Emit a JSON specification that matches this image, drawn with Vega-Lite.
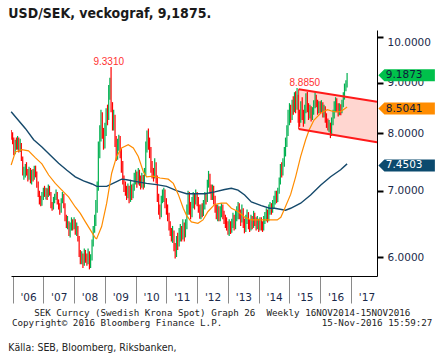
{
"$schema": "https://vega.github.io/schema/vega-lite/v6.json",
"background": "white",
"padding": {"left": 8, "top": 7, "right": 0, "bottom": 0},
"autosize": {"type": "pad"},
"config": {"view": {"stroke": null}, "concat": {"spacing": 0}, "axis": {"labelOverlap": false}, "axisX": {"labelOverlap": false, "labelBound": false}},
"title": {"text": "USD/SEK, veckograf, 9,1875.", "anchor": "start", "font": "Liberation Sans Narrow, DejaVu Sans Condensed, Roboto, sans-serif", "fontSize": 14, "fontWeight": "bold", "color": "#1a1a1a", "offset": 9},
"datasets": {
"px": [
{"d":"2005-12-15","o":7.98,"h":8.06,"l":7.88,"c":7.95},
{"d":"2006-01-01","o":7.95,"h":8.02,"l":7.80,"c":7.88},
{"d":"2006-01-15","o":7.88,"h":7.92,"l":7.60,"c":7.65},
{"d":"2006-02-01","o":7.65,"h":7.88,"l":7.62,"c":7.82},
{"d":"2006-02-15","o":7.82,"h":7.92,"l":7.70,"c":7.75},
{"d":"2006-03-01","o":7.75,"h":7.95,"l":7.70,"c":7.88},
{"d":"2006-03-15","o":7.88,"h":7.92,"l":7.65,"c":7.72},
{"d":"2006-04-01","o":7.72,"h":7.90,"l":7.66,"c":7.80},
{"d":"2006-04-15","o":7.80,"h":7.82,"l":7.50,"c":7.55},
{"d":"2006-05-01","o":7.55,"h":7.58,"l":7.25,"c":7.28},
{"d":"2006-05-15","o":7.28,"h":7.40,"l":7.18,"c":7.32},
{"d":"2006-06-01","o":7.32,"h":7.45,"l":7.22,"c":7.38},
{"d":"2006-06-15","o":7.38,"h":7.48,"l":7.25,"c":7.30},
{"d":"2006-07-01","o":7.30,"h":7.36,"l":7.15,"c":7.22},
{"d":"2006-07-15","o":7.22,"h":7.40,"l":7.18,"c":7.35},
{"d":"2006-08-01","o":7.35,"h":7.38,"l":7.12,"c":7.20},
{"d":"2006-08-15","o":7.20,"h":7.35,"l":7.10,"c":7.28},
{"d":"2006-09-01","o":7.28,"h":7.36,"l":7.15,"c":7.22},
{"d":"2006-09-15","o":7.22,"h":7.42,"l":7.18,"c":7.38},
{"d":"2006-10-01","o":7.38,"h":7.42,"l":7.22,"c":7.30},
{"d":"2006-10-15","o":7.30,"h":7.32,"l":7.05,"c":7.10},
{"d":"2006-11-01","o":7.10,"h":7.15,"l":6.90,"c":6.95},
{"d":"2006-11-15","o":6.95,"h":7.00,"l":6.78,"c":6.85},
{"d":"2006-12-01","o":6.85,"h":6.92,"l":6.75,"c":6.80},
{"d":"2006-12-15","o":6.80,"h":6.98,"l":6.76,"c":6.90},
{"d":"2007-01-01","o":6.90,"h":7.05,"l":6.85,"c":7.02},
{"d":"2007-01-15","o":7.02,"h":7.08,"l":6.90,"c":6.95},
{"d":"2007-02-01","o":6.95,"h":7.05,"l":6.86,"c":7.00},
{"d":"2007-02-15","o":7.00,"h":7.04,"l":6.85,"c":6.92},
{"d":"2007-03-01","o":6.92,"h":7.10,"l":6.90,"c":7.05},
{"d":"2007-03-15","o":7.05,"h":7.08,"l":6.92,"c":6.96},
{"d":"2007-04-01","o":6.96,"h":6.98,"l":6.72,"c":6.78},
{"d":"2007-04-15","o":6.78,"h":6.82,"l":6.68,"c":6.72},
{"d":"2007-05-01","o":6.72,"h":6.90,"l":6.70,"c":6.86},
{"d":"2007-05-15","o":6.86,"h":6.95,"l":6.80,"c":6.90},
{"d":"2007-06-01","o":6.90,"h":7.02,"l":6.85,"c":6.95},
{"d":"2007-06-15","o":6.95,"h":6.98,"l":6.78,"c":6.82},
{"d":"2007-07-01","o":6.82,"h":6.86,"l":6.70,"c":6.75},
{"d":"2007-07-15","o":6.75,"h":6.80,"l":6.62,"c":6.68},
{"d":"2007-08-01","o":6.68,"h":6.88,"l":6.65,"c":6.85},
{"d":"2007-08-15","o":6.85,"h":6.98,"l":6.80,"c":6.92},
{"d":"2007-09-01","o":6.92,"h":6.95,"l":6.72,"c":6.78},
{"d":"2007-09-15","o":6.78,"h":6.80,"l":6.52,"c":6.58},
{"d":"2007-10-01","o":6.58,"h":6.62,"l":6.42,"c":6.48},
{"d":"2007-10-15","o":6.48,"h":6.60,"l":6.40,"c":6.50},
{"d":"2007-11-01","o":6.50,"h":6.52,"l":6.30,"c":6.35},
{"d":"2007-11-15","o":6.35,"h":6.50,"l":6.28,"c":6.42},
{"d":"2007-12-01","o":6.42,"h":6.58,"l":6.38,"c":6.50},
{"d":"2007-12-15","o":6.50,"h":6.55,"l":6.38,"c":6.45},
{"d":"2008-01-01","o":6.45,"h":6.58,"l":6.40,"c":6.52},
{"d":"2008-01-15","o":6.52,"h":6.55,"l":6.32,"c":6.38},
{"d":"2008-02-01","o":6.38,"h":6.50,"l":6.30,"c":6.42},
{"d":"2008-02-15","o":6.42,"h":6.45,"l":6.22,"c":6.28},
{"d":"2008-03-01","o":6.28,"h":6.30,"l":6.00,"c":6.05},
{"d":"2008-03-15","o":6.05,"h":6.10,"l":5.90,"c":5.95},
{"d":"2008-04-01","o":5.95,"h":6.08,"l":5.90,"c":6.02},
{"d":"2008-04-15","o":6.02,"h":6.05,"l":5.85,"c":5.90},
{"d":"2008-05-01","o":5.90,"h":6.12,"l":5.88,"c":6.05},
{"d":"2008-05-15","o":6.05,"h":6.10,"l":5.92,"c":5.98},
{"d":"2008-06-01","o":5.98,"h":6.05,"l":5.88,"c":5.94},
{"d":"2008-06-15","o":5.94,"h":6.12,"l":5.90,"c":6.06},
{"d":"2008-07-01","o":6.06,"h":6.08,"l":5.83,"c":5.90},
{"d":"2008-07-15","o":5.90,"h":6.04,"l":5.85,"c":5.98},
{"d":"2008-08-01","o":5.98,"h":6.25,"l":5.95,"c":6.20},
{"d":"2008-08-15","o":6.20,"h":6.45,"l":6.15,"c":6.40},
{"d":"2008-09-01","o":6.40,"h":6.62,"l":6.35,"c":6.55},
{"d":"2008-09-15","o":6.55,"h":6.85,"l":6.45,"c":6.70},
{"d":"2008-10-01","o":6.70,"h":7.15,"l":6.65,"c":7.05},
{"d":"2008-10-15","o":7.05,"h":7.85,"l":7.00,"c":7.60},
{"d":"2008-11-01","o":7.60,"h":8.15,"l":7.55,"c":7.95},
{"d":"2008-11-15","o":7.95,"h":8.45,"l":7.85,"c":8.10},
{"d":"2008-12-01","o":8.10,"h":8.40,"l":7.90,"c":8.00},
{"d":"2008-12-15","o":8.00,"h":8.10,"l":7.70,"c":7.80},
{"d":"2009-01-01","o":7.80,"h":8.20,"l":7.72,"c":8.05},
{"d":"2009-01-15","o":8.05,"h":8.48,"l":7.95,"c":8.40},
{"d":"2009-02-01","o":8.40,"h":8.55,"l":8.15,"c":8.30},
{"d":"2009-02-15","o":8.30,"h":8.95,"l":8.25,"c":8.75},
{"d":"2009-03-01","o":8.75,"h":9.10,"l":8.65,"c":8.95},
{"d":"2009-03-15","o":8.95,"h":9.331,"l":8.40,"c":8.50},
{"d":"2009-04-01","o":8.50,"h":8.60,"l":8.05,"c":8.20},
{"d":"2009-04-15","o":8.20,"h":8.45,"l":8.05,"c":8.30},
{"d":"2009-05-01","o":8.30,"h":8.35,"l":7.75,"c":7.85},
{"d":"2009-05-15","o":7.85,"h":7.95,"l":7.50,"c":7.60},
{"d":"2009-06-01","o":7.60,"h":7.90,"l":7.52,"c":7.80},
{"d":"2009-06-15","o":7.80,"h":7.97,"l":7.68,"c":7.85},
{"d":"2009-07-01","o":7.85,"h":7.95,"l":7.55,"c":7.65},
{"d":"2009-07-15","o":7.65,"h":7.72,"l":7.30,"c":7.45},
{"d":"2009-08-01","o":7.45,"h":7.50,"l":7.10,"c":7.20},
{"d":"2009-08-15","o":7.20,"h":7.25,"l":6.98,"c":7.10},
{"d":"2009-09-01","o":7.10,"h":7.15,"l":6.92,"c":7.02},
{"d":"2009-09-15","o":7.02,"h":7.08,"l":6.85,"c":6.92},
{"d":"2009-10-01","o":6.92,"h":7.12,"l":6.88,"c":7.05},
{"d":"2009-10-15","o":7.05,"h":7.08,"l":6.80,"c":6.85},
{"d":"2009-11-01","o":6.85,"h":7.18,"l":6.82,"c":7.08},
{"d":"2009-11-15","o":7.08,"h":7.10,"l":6.85,"c":6.92},
{"d":"2009-12-01","o":6.92,"h":7.12,"l":6.88,"c":7.05},
{"d":"2009-12-15","o":7.05,"h":7.30,"l":7.00,"c":7.20},
{"d":"2010-01-01","o":7.20,"h":7.35,"l":7.10,"c":7.25},
{"d":"2010-01-15","o":7.25,"h":7.32,"l":7.05,"c":7.15},
{"d":"2010-02-01","o":7.15,"h":7.38,"l":7.10,"c":7.30},
{"d":"2010-02-15","o":7.30,"h":7.35,"l":7.08,"c":7.18},
{"d":"2010-03-01","o":7.18,"h":7.25,"l":7.02,"c":7.12},
{"d":"2010-03-15","o":7.12,"h":7.30,"l":7.05,"c":7.22},
{"d":"2010-04-01","o":7.22,"h":7.26,"l":7.02,"c":7.10},
{"d":"2010-04-15","o":7.10,"h":7.38,"l":7.05,"c":7.30},
{"d":"2010-05-01","o":7.30,"h":7.85,"l":7.25,"c":7.75},
{"d":"2010-05-15","o":7.75,"h":8.05,"l":7.65,"c":7.95},
{"d":"2010-06-01","o":7.95,"h":8.09,"l":7.70,"c":7.85},
{"d":"2010-06-15","o":7.85,"h":7.92,"l":7.55,"c":7.70},
{"d":"2010-07-01","o":7.70,"h":7.75,"l":7.30,"c":7.40},
{"d":"2010-07-15","o":7.40,"h":7.50,"l":7.20,"c":7.30},
{"d":"2010-08-01","o":7.30,"h":7.38,"l":7.15,"c":7.25},
{"d":"2010-08-15","o":7.25,"h":7.55,"l":7.20,"c":7.42},
{"d":"2010-09-01","o":7.42,"h":7.48,"l":7.12,"c":7.20},
{"d":"2010-09-15","o":7.20,"h":7.25,"l":6.82,"c":6.90},
{"d":"2010-10-01","o":6.90,"h":6.95,"l":6.62,"c":6.70},
{"d":"2010-10-15","o":6.70,"h":6.78,"l":6.55,"c":6.62},
{"d":"2010-11-01","o":6.62,"h":6.92,"l":6.58,"c":6.85},
{"d":"2010-11-15","o":6.85,"h":7.02,"l":6.80,"c":6.90},
{"d":"2010-12-01","o":6.90,"h":7.05,"l":6.82,"c":6.98},
{"d":"2010-12-15","o":6.98,"h":7.02,"l":6.72,"c":6.80},
{"d":"2011-01-01","o":6.80,"h":6.88,"l":6.62,"c":6.70},
{"d":"2011-01-15","o":6.70,"h":6.78,"l":6.52,"c":6.60},
{"d":"2011-02-01","o":6.60,"h":6.65,"l":6.38,"c":6.45},
{"d":"2011-02-15","o":6.45,"h":6.52,"l":6.30,"c":6.38},
{"d":"2011-03-01","o":6.38,"h":6.42,"l":6.22,"c":6.30},
{"d":"2011-03-15","o":6.30,"h":6.45,"l":6.20,"c":6.35},
{"d":"2011-04-01","o":6.35,"h":6.38,"l":6.08,"c":6.15},
{"d":"2011-04-15","o":6.15,"h":6.20,"l":5.98,"c":6.05},
{"d":"2011-05-01","o":6.05,"h":6.30,"l":6.00,"c":6.22},
{"d":"2011-05-15","o":6.22,"h":6.35,"l":6.10,"c":6.20},
{"d":"2011-06-01","o":6.20,"h":6.42,"l":6.15,"c":6.30},
{"d":"2011-06-15","o":6.30,"h":6.48,"l":6.22,"c":6.38},
{"d":"2011-07-01","o":6.38,"h":6.45,"l":6.22,"c":6.30},
{"d":"2011-07-15","o":6.30,"h":6.55,"l":6.25,"c":6.45},
{"d":"2011-08-01","o":6.45,"h":6.50,"l":6.22,"c":6.35},
{"d":"2011-08-15","o":6.35,"h":6.55,"l":6.28,"c":6.45},
{"d":"2011-09-01","o":6.45,"h":6.78,"l":6.40,"c":6.70},
{"d":"2011-09-15","o":6.70,"h":7.00,"l":6.62,"c":6.85},
{"d":"2011-10-01","o":6.85,"h":6.98,"l":6.62,"c":6.75},
{"d":"2011-10-15","o":6.75,"h":6.82,"l":6.55,"c":6.62},
{"d":"2011-11-01","o":6.62,"h":6.90,"l":6.58,"c":6.80},
{"d":"2011-11-15","o":6.80,"h":6.98,"l":6.72,"c":6.90},
{"d":"2011-12-01","o":6.90,"h":6.96,"l":6.70,"c":6.82},
{"d":"2011-12-15","o":6.82,"h":7.02,"l":6.78,"c":6.92},
{"d":"2012-01-01","o":6.92,"h":6.98,"l":6.75,"c":6.85},
{"d":"2012-01-15","o":6.85,"h":6.90,"l":6.65,"c":6.72},
{"d":"2012-02-01","o":6.72,"h":6.78,"l":6.56,"c":6.62},
{"d":"2012-02-15","o":6.62,"h":6.78,"l":6.55,"c":6.70},
{"d":"2012-03-01","o":6.70,"h":6.80,"l":6.58,"c":6.65},
{"d":"2012-03-15","o":6.65,"h":6.85,"l":6.60,"c":6.75},
{"d":"2012-04-01","o":6.75,"h":6.98,"l":6.70,"c":6.88},
{"d":"2012-04-15","o":6.88,"h":6.95,"l":6.78,"c":6.85},
{"d":"2012-05-01","o":6.85,"h":7.18,"l":6.82,"c":7.10},
{"d":"2012-05-15","o":7.10,"h":7.33,"l":7.05,"c":7.22},
{"d":"2012-06-01","o":7.22,"h":7.28,"l":6.95,"c":7.05},
{"d":"2012-06-15","o":7.05,"h":7.10,"l":6.85,"c":6.92},
{"d":"2012-07-01","o":6.92,"h":7.10,"l":6.85,"c":7.02},
{"d":"2012-07-15","o":7.02,"h":7.08,"l":6.78,"c":6.85},
{"d":"2012-08-01","o":6.85,"h":6.92,"l":6.65,"c":6.70},
{"d":"2012-08-15","o":6.70,"h":6.78,"l":6.55,"c":6.62},
{"d":"2012-09-01","o":6.62,"h":6.78,"l":6.52,"c":6.70},
{"d":"2012-09-15","o":6.70,"h":6.75,"l":6.52,"c":6.58},
{"d":"2012-10-01","o":6.58,"h":6.75,"l":6.52,"c":6.65},
{"d":"2012-10-15","o":6.65,"h":6.80,"l":6.58,"c":6.72},
{"d":"2012-11-01","o":6.72,"h":6.78,"l":6.55,"c":6.62},
{"d":"2012-11-15","o":6.62,"h":6.68,"l":6.48,"c":6.55},
{"d":"2012-12-01","o":6.55,"h":6.62,"l":6.42,"c":6.50},
{"d":"2012-12-15","o":6.50,"h":6.58,"l":6.38,"c":6.45},
{"d":"2013-01-01","o":6.45,"h":6.52,"l":6.32,"c":6.38},
{"d":"2013-01-15","o":6.38,"h":6.55,"l":6.30,"c":6.45},
{"d":"2013-02-01","o":6.45,"h":6.52,"l":6.33,"c":6.38},
{"d":"2013-02-15","o":6.38,"h":6.56,"l":6.35,"c":6.48},
{"d":"2013-03-01","o":6.48,"h":6.65,"l":6.42,"c":6.55},
{"d":"2013-03-15","o":6.55,"h":6.62,"l":6.38,"c":6.45},
{"d":"2013-04-01","o":6.45,"h":6.68,"l":6.40,"c":6.58},
{"d":"2013-04-15","o":6.58,"h":6.75,"l":6.52,"c":6.62},
{"d":"2013-05-01","o":6.62,"h":6.82,"l":6.55,"c":6.72},
{"d":"2013-05-15","o":6.72,"h":6.80,"l":6.55,"c":6.65},
{"d":"2013-06-01","o":6.65,"h":6.70,"l":6.45,"c":6.55},
{"d":"2013-06-15","o":6.55,"h":6.78,"l":6.50,"c":6.68},
{"d":"2013-07-01","o":6.68,"h":6.72,"l":6.42,"c":6.50},
{"d":"2013-07-15","o":6.50,"h":6.56,"l":6.34,"c":6.40},
{"d":"2013-08-01","o":6.40,"h":6.62,"l":6.36,"c":6.55},
{"d":"2013-08-15","o":6.55,"h":6.70,"l":6.48,"c":6.60},
{"d":"2013-09-01","o":6.60,"h":6.66,"l":6.40,"c":6.48},
{"d":"2013-09-15","o":6.48,"h":6.55,"l":6.36,"c":6.42},
{"d":"2013-10-01","o":6.42,"h":6.62,"l":6.38,"c":6.55},
{"d":"2013-10-15","o":6.55,"h":6.60,"l":6.40,"c":6.48},
{"d":"2013-11-01","o":6.48,"h":6.68,"l":6.42,"c":6.60},
{"d":"2013-11-15","o":6.60,"h":6.65,"l":6.45,"c":6.52},
{"d":"2013-12-01","o":6.52,"h":6.58,"l":6.38,"c":6.45},
{"d":"2013-12-15","o":6.45,"h":6.60,"l":6.40,"c":6.50},
{"d":"2014-01-01","o":6.50,"h":6.56,"l":6.36,"c":6.42},
{"d":"2014-01-15","o":6.42,"h":6.58,"l":6.38,"c":6.50},
{"d":"2014-02-01","o":6.50,"h":6.58,"l":6.38,"c":6.45},
{"d":"2014-02-15","o":6.45,"h":6.52,"l":6.36,"c":6.40},
{"d":"2014-03-01","o":6.40,"h":6.60,"l":6.38,"c":6.52},
{"d":"2014-03-15","o":6.52,"h":6.66,"l":6.48,"c":6.58},
{"d":"2014-04-01","o":6.58,"h":6.72,"l":6.52,"c":6.62},
{"d":"2014-04-15","o":6.62,"h":6.70,"l":6.50,"c":6.56},
{"d":"2014-05-01","o":6.56,"h":6.78,"l":6.52,"c":6.68},
{"d":"2014-05-15","o":6.68,"h":6.82,"l":6.62,"c":6.72},
{"d":"2014-06-01","o":6.72,"h":6.80,"l":6.62,"c":6.70},
{"d":"2014-06-15","o":6.70,"h":6.85,"l":6.65,"c":6.78},
{"d":"2014-07-01","o":6.78,"h":6.92,"l":6.72,"c":6.82},
{"d":"2014-07-15","o":6.82,"h":7.00,"l":6.78,"c":6.92},
{"d":"2014-08-01","o":6.92,"h":7.00,"l":6.80,"c":6.88},
{"d":"2014-08-15","o":6.88,"h":7.05,"l":6.82,"c":6.98},
{"d":"2014-09-01","o":6.98,"h":7.22,"l":6.95,"c":7.15},
{"d":"2014-09-15","o":7.15,"h":7.45,"l":7.10,"c":7.35},
{"d":"2014-10-01","o":7.35,"h":7.48,"l":7.22,"c":7.30},
{"d":"2014-10-15","o":7.30,"h":7.55,"l":7.25,"c":7.45},
{"d":"2014-11-01","o":7.45,"h":7.75,"l":7.40,"c":7.65},
{"d":"2014-11-15","o":7.65,"h":7.92,"l":7.58,"c":7.80},
{"d":"2014-12-01","o":7.80,"h":8.15,"l":7.75,"c":8.05},
{"d":"2014-12-15","o":8.05,"h":8.45,"l":7.95,"c":8.25},
{"d":"2015-01-01","o":8.25,"h":8.58,"l":8.15,"c":8.40},
{"d":"2015-01-15","o":8.40,"h":8.55,"l":8.20,"c":8.30},
{"d":"2015-02-01","o":8.30,"h":8.65,"l":8.25,"c":8.55},
{"d":"2015-02-15","o":8.55,"h":8.72,"l":8.35,"c":8.45},
{"d":"2015-03-01","o":8.45,"h":8.80,"l":8.40,"c":8.70},
{"d":"2015-03-15","o":8.70,"h":8.82,"l":8.38,"c":8.55},
{"d":"2015-04-01","o":8.55,"h":8.885,"l":8.45,"c":8.70},
{"d":"2015-04-15","o":8.70,"h":8.75,"l":8.20,"c":8.35},
{"d":"2015-05-01","o":8.35,"h":8.45,"l":8.12,"c":8.25},
{"d":"2015-05-15","o":8.25,"h":8.62,"l":8.20,"c":8.50},
{"d":"2015-06-01","o":8.50,"h":8.70,"l":8.25,"c":8.35},
{"d":"2015-06-15","o":8.35,"h":8.45,"l":8.12,"c":8.22},
{"d":"2015-07-01","o":8.22,"h":8.55,"l":8.18,"c":8.45},
{"d":"2015-07-15","o":8.45,"h":8.78,"l":8.38,"c":8.60},
{"d":"2015-08-01","o":8.60,"h":8.81,"l":8.40,"c":8.50},
{"d":"2015-08-15","o":8.50,"h":8.58,"l":8.25,"c":8.35},
{"d":"2015-09-01","o":8.35,"h":8.55,"l":8.28,"c":8.45},
{"d":"2015-09-15","o":8.45,"h":8.52,"l":8.22,"c":8.30},
{"d":"2015-10-01","o":8.30,"h":8.50,"l":8.25,"c":8.40},
{"d":"2015-10-15","o":8.40,"h":8.64,"l":8.35,"c":8.55},
{"d":"2015-11-01","o":8.55,"h":8.80,"l":8.48,"c":8.70},
{"d":"2015-11-15","o":8.70,"h":8.75,"l":8.50,"c":8.60},
{"d":"2015-12-01","o":8.60,"h":8.65,"l":8.35,"c":8.45},
{"d":"2015-12-15","o":8.45,"h":8.62,"l":8.38,"c":8.55},
{"d":"2016-01-01","o":8.55,"h":8.62,"l":8.38,"c":8.48},
{"d":"2016-01-15","o":8.48,"h":8.64,"l":8.40,"c":8.55},
{"d":"2016-02-01","o":8.55,"h":8.60,"l":8.30,"c":8.40},
{"d":"2016-02-15","o":8.40,"h":8.55,"l":8.30,"c":8.45},
{"d":"2016-03-01","o":8.45,"h":8.52,"l":8.20,"c":8.30},
{"d":"2016-03-15","o":8.30,"h":8.38,"l":8.10,"c":8.20},
{"d":"2016-04-01","o":8.20,"h":8.28,"l":8.05,"c":8.10},
{"d":"2016-04-15","o":8.10,"h":8.25,"l":8.02,"c":8.15},
{"d":"2016-05-01","o":8.15,"h":8.20,"l":7.91,"c":7.98},
{"d":"2016-05-15","o":7.98,"h":8.30,"l":7.95,"c":8.20},
{"d":"2016-06-01","o":8.20,"h":8.45,"l":8.15,"c":8.35},
{"d":"2016-06-15","o":8.35,"h":8.62,"l":8.28,"c":8.50},
{"d":"2016-07-01","o":8.50,"h":8.70,"l":8.40,"c":8.62},
{"d":"2016-07-15","o":8.62,"h":8.68,"l":8.40,"c":8.50},
{"d":"2016-08-01","o":8.50,"h":8.58,"l":8.32,"c":8.38},
{"d":"2016-08-15","o":8.38,"h":8.58,"l":8.34,"c":8.48},
{"d":"2016-09-01","o":8.48,"h":8.56,"l":8.34,"c":8.42},
{"d":"2016-09-15","o":8.42,"h":8.65,"l":8.38,"c":8.55},
{"d":"2016-10-01","o":8.55,"h":8.80,"l":8.50,"c":8.72},
{"d":"2016-10-15","o":8.72,"h":8.98,"l":8.65,"c":8.90},
{"d":"2016-11-01","o":8.90,"h":9.05,"l":8.82,"c":8.95},
{"d":"2016-11-15","o":8.95,"h":9.20,"l":8.90,"c":9.19}
],
"ma40": [
{"d":"2005-12-15","v":7.43},{"d":"2006-02-03","v":7.66},{"d":"2006-04-22","v":7.70},{"d":"2006-07-09","v":7.68},
{"d":"2006-09-27","v":7.56},{"d":"2006-12-15","v":7.45},{"d":"2007-03-05","v":7.26},{"d":"2007-05-23","v":7.12},
{"d":"2007-08-29","v":6.98},{"d":"2007-10-27","v":6.90},{"d":"2008-01-15","v":6.74},{"d":"2008-03-15","v":6.64},
{"d":"2008-05-14","v":6.51},{"d":"2008-07-12","v":6.39},{"d":"2008-09-10","v":6.27},{"d":"2008-09-25","v":6.26},
{"d":"2008-11-23","v":6.44},{"d":"2009-01-22","v":6.80},{"d":"2009-03-22","v":7.29},{"d":"2009-05-20","v":7.58},
{"d":"2009-07-18","v":7.73},{"d":"2009-10-05","v":7.79},{"d":"2009-12-04","v":7.73},{"d":"2010-02-01","v":7.58},
{"d":"2010-04-01","v":7.32},{"d":"2010-05-10","v":7.23},{"d":"2010-07-29","v":7.24},{"d":"2010-10-16","v":7.21},
{"d":"2011-01-23","v":7.19},{"d":"2011-03-24","v":7.12},{"d":"2011-05-22","v":6.94},{"d":"2011-07-20","v":6.72},
{"d":"2011-08-28","v":6.61},{"d":"2011-10-24","v":6.51},{"d":"2012-01-10","v":6.49},{"d":"2012-03-10","v":6.54},
{"d":"2012-05-09","v":6.67},{"d":"2012-07-27","v":6.78},{"d":"2012-10-14","v":6.80},{"d":"2012-12-13","v":6.80},
{"d":"2013-02-10","v":6.72},{"d":"2013-04-30","v":6.67},{"d":"2013-07-18","v":6.58},{"d":"2013-10-05","v":6.54},
{"d":"2013-12-23","v":6.54},{"d":"2014-03-14","v":6.54},{"d":"2014-05-22","v":6.54},{"d":"2014-08-09","v":6.54},
{"d":"2014-09-20","v":6.58},{"d":"2014-10-27","v":6.69},{"d":"2015-01-15","v":6.94},{"d":"2015-03-15","v":7.23},
{"d":"2015-05-14","v":7.58},{"d":"2015-07-12","v":7.88},{"d":"2015-08-22","v":8.06},{"d":"2015-10-19","v":8.25},
{"d":"2016-01-06","v":8.38},{"d":"2016-03-26","v":8.45},{"d":"2016-06-13","v":8.41},{"d":"2016-08-30","v":8.41},
{"d":"2016-11-15","v":8.5041}
],
"ma200": [
{"d":"2005-12-15","v":8.41},{"d":"2006-06-01","v":8.09},{"d":"2006-09-08","v":7.88},{"d":"2006-12-15","v":7.75},
{"d":"2007-03-25","v":7.60},{"d":"2007-07-01","v":7.46},{"d":"2007-10-08","v":7.34},{"d":"2008-01-15","v":7.23},
{"d":"2008-04-22","v":7.16},{"d":"2008-08-01","v":7.11},{"d":"2008-09-27","v":7.07},{"d":"2009-01-22","v":7.07},
{"d":"2009-05-20","v":7.15},{"d":"2009-07-18","v":7.19},{"d":"2009-09-16","v":7.18},{"d":"2010-01-12","v":7.15},
{"d":"2010-05-10","v":7.12},{"d":"2010-09-06","v":7.10},{"d":"2011-01-03","v":7.07},{"d":"2011-05-01","v":7.00},
{"d":"2011-08-28","v":6.95},{"d":"2012-04-01","v":6.95},{"d":"2012-07-27","v":6.98},{"d":"2012-11-22","v":7.02},
{"d":"2013-02-10","v":7.04},{"d":"2013-04-30","v":7.01},{"d":"2013-07-18","v":6.93},{"d":"2013-10-05","v":6.82},
{"d":"2014-02-01","v":6.76},{"d":"2014-05-11","v":6.72},{"d":"2014-07-09","v":6.72},{"d":"2014-11-16","v":6.69},
{"d":"2015-01-15","v":6.72},{"d":"2015-05-14","v":6.80},{"d":"2015-09-09","v":6.93},{"d":"2016-01-05","v":7.09},
{"d":"2016-05-03","v":7.23},{"d":"2016-08-30","v":7.35},{"d":"2016-11-15","v":7.4503}
],
"chan": [
{"d":"2015-04-20","top":8.862,"bot":8.08},
{"d":"2017-11-05","top":8.61,"bot":7.834}
],
"peaks": [
{"d":"2009-02-15","v":9.331},
{"d":"2015-07-02","v":8.885}
],
"tags": [
{"s":"spot","v":9.1873},
{"s":"ma40","v":8.5041},
{"s":"ma200","v":7.4503}
]
},
"vconcat": [
{
"width": 366,
"height": 246,
"title": {"text": "Källa: SEB, Bloomberg, Riksbanken,", "orient": "bottom", "anchor": "start", "font": "Liberation Sans Narrow, DejaVu Sans Condensed, Roboto, sans-serif", "fontSize": 10.5, "fontWeight": "normal", "color": "#222222", "offset": 15},
"layer": [
{
"data": {"name": "chan"},
"mark": {"type": "area", "color": "#ffd6d0", "opacity": 1},
"encoding": {
"x": {"field": "d", "type": "temporal",
  "scale": {"domain": [{"year": 2005, "month": 12, "date": 13, "utc": true}, {"year": 2017, "month": 11, "date": 5, "utc": true}]},
  "axis": {
    "values": [
      {"year": 2006, "month": 1, "date": 1, "utc": true}, {"year": 2007, "month": 1, "date": 1, "utc": true},
      {"year": 2008, "month": 1, "date": 1, "utc": true}, {"year": 2009, "month": 1, "date": 1, "utc": true},
      {"year": 2010, "month": 1, "date": 1, "utc": true}, {"year": 2011, "month": 1, "date": 1, "utc": true},
      {"year": 2012, "month": 1, "date": 1, "utc": true}, {"year": 2013, "month": 1, "date": 1, "utc": true},
      {"year": 2014, "month": 1, "date": 1, "utc": true}, {"year": 2015, "month": 1, "date": 1, "utc": true},
      {"year": 2016, "month": 1, "date": 1, "utc": true}, {"year": 2017, "month": 1, "date": 1, "utc": true}
    ],
    "tickCount": 40,
    "labelExpr": "\"'\" + utcFormat(datum.value, '%y')",
    "grid": false,
    "domainColor": "#000000", "domainWidth": 1,
    "tickSize": 27, "tickColor": "#8a8a8a", "tickWidth": 1,
    "labelAlign": "center", "labelOffset": 15.4, "labelPadding": -5.5, "labelBaseline": "middle",
    "labelFont": "DejaVu Sans", "labelFontSize": 10.5, "labelColor": "#1b2a4a",
    "labelOverlap": false, "labelBound": false, "labelFlush": false, "labelSeparation": 0,
    "title": ["SEK Curncy (Swedish Krona Spot) Graph 26\u00a0 Weekly 16NOV2014-15NOV2016", "Copyright© 2016 Bloomberg Finance L.P.\u00a0\u00a0\u00a0\u00a0\u00a0\u00a0\u00a0\u00a0\u00a0\u00a0\u00a0\u00a0\u00a0\u00a0\u00a0\u00a0\u00a0\u00a015-Nov-2016 15:59:27"],
    "titleFont": "DejaVu Sans Mono", "titleFontSize": 9.2, "titleFontWeight": "normal", "titleColor": "#222222",
    "titleX": 210.7, "titleY": 39, "titleAlign": "center", "titleBaseline": "alphabetic", "titleLineHeight": 10.6
  }
},
"y": {"field": "top", "type": "quantitative",
  "scale": {"type": "log", "domain": [5.741, 10.17], "nice": false},
  "axis": {"orient": "right", "values": [6, 7, 8, 9, 10], "format": ".4f", "grid": false,
    "domainColor": "#000000", "domainWidth": 1,
    "tickSize": 6, "tickWidth": 2, "tickColor": "#000000",
    "labelFont": "DejaVu Sans", "labelFontSize": 10.5, "labelColor": "#1b2a4a",
    "labelPadding": 4, "labelFlush": 8,
    "labelOverlap": false, "labelBound": false,
    "title": null}
},
"y2": {"field": "bot"}
}
},
{
"data": {"name": "px"},
"mark": {"type": "rule", "strokeWidth": 1.2, "clip": true},
"encoding": {
"x": {"field": "d", "type": "temporal"},
"y": {"field": "l", "type": "quantitative"},
"y2": {"field": "h"},
"color": {"condition": {"test": "datum.c >= datum.o", "value": "#00b050"}, "value": "#ff0000"}
}
},
{
"data": {"name": "ma200"},
"mark": {"type": "line", "color": "#15496b", "strokeWidth": 1.4},
"encoding": {"x": {"field": "d", "type": "temporal"}, "y": {"field": "v", "type": "quantitative"}}
},
{
"data": {"name": "ma40"},
"mark": {"type": "line", "color": "#ff8c00", "strokeWidth": 1.2},
"encoding": {"x": {"field": "d", "type": "temporal"}, "y": {"field": "v", "type": "quantitative"}}
},
{
"data": {"name": "chan"},
"mark": {"type": "line", "color": "#ff1a1a", "strokeWidth": 2},
"encoding": {"x": {"field": "d", "type": "temporal"}, "y": {"field": "top", "type": "quantitative"}}
},
{
"data": {"name": "chan"},
"mark": {"type": "line", "color": "#ff1a1a", "strokeWidth": 2},
"encoding": {"x": {"field": "d", "type": "temporal"}, "y": {"field": "bot", "type": "quantitative"}}
},
{
"data": {"name": "chan"},
"transform": [{"filter": "datum.top > 8.7"}],
"mark": {"type": "rule", "color": "#ff1a1a", "strokeWidth": 1},
"encoding": {"x": {"field": "d", "type": "temporal"}, "y": {"field": "top", "type": "quantitative"}, "y2": {"field": "bot"}}
},
{
"data": {"name": "peaks"},
"mark": {"type": "text", "color": "#ff3030", "font": "Liberation Sans", "fontSize": 10, "align": "center", "baseline": "middle", "dy": -5.5},
"encoding": {"x": {"field": "d", "type": "temporal"}, "y": {"field": "v", "type": "quantitative"}, "text": {"field": "v", "type": "quantitative", "format": ".4f"}}
},
{
"data": {"name": "tags"},
"mark": {"type": "point", "shape": "M-1,0L-0.788,-0.2124L1,-0.2124L1,0.2124L-0.788,0.2124Z", "size": 3192, "filled": true, "opacity": 1, "strokeWidth": 0, "xOffset": 29.65, "yOffset": 1.6},
"encoding": {
"x": {"datum": {"year": 2017, "month": 11, "date": 5, "utc": true}, "type": "temporal"},
"y": {"field": "v", "type": "quantitative"},
"color": {"field": "s", "type": "nominal", "scale": {"domain": ["spot", "ma40", "ma200"], "range": ["#00c04b", "#ff8c00", "#0b4a6e"]}, "legend": null}
}
},
{
"data": {"name": "tags"},
"mark": {"type": "text", "font": "DejaVu Sans", "fontSize": 10.5, "align": "left", "baseline": "middle", "dx": 8.8, "dy": 1.6},
"encoding": {
"x": {"datum": {"year": 2017, "month": 11, "date": 5, "utc": true}, "type": "temporal"},
"y": {"field": "v", "type": "quantitative"},
"text": {"field": "v", "type": "quantitative", "format": ".4f"},
"color": {"condition": {"test": "datum.s === 'ma200'", "value": "#ffffff"}, "value": "#0d1b3a"}
}
}
]
}
]
}
